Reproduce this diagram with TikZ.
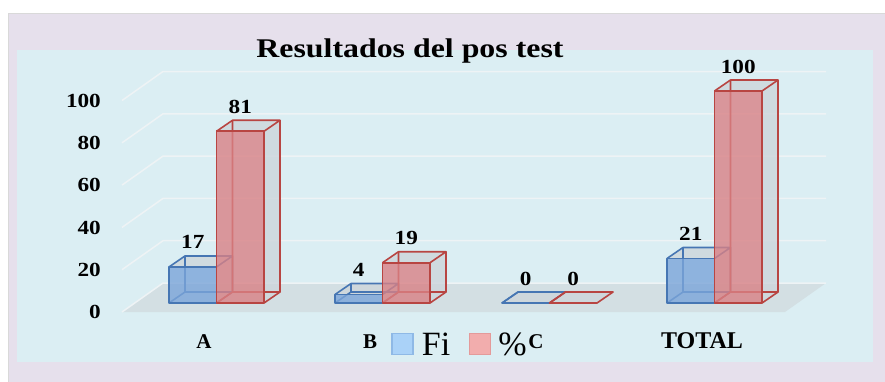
\documentclass[tikz,border=0pt]{standalone}
\usepackage{fontspec}
\setmainfont{Liberation Serif}
\newfontfamily\widefont{Liberation Serif}[FakeStretch=1.16]
\newfontfamily\titlefont{Liberation Serif}[FakeStretch=1.18]
\usetikzlibrary{positioning}

\definecolor{outerbg}{HTML}{E6E0EC}
\definecolor{panelbg}{HTML}{DBEEF3}
\definecolor{floorgray}{HTML}{D3DFE3}
\definecolor{gridwhite}{HTML}{EEF3F5}
\definecolor{fiblue}{HTML}{7BA5D9}
\definecolor{fiedge}{HTML}{4676B3}
\definecolor{pcred}{HTML}{D98185}
\definecolor{pcedge}{HTML}{B84542}
\definecolor{sidegray}{HTML}{CDD5DB}
\definecolor{legblue}{HTML}{AAD2F8}
\definecolor{legblueedge}{HTML}{8FB9E6}
\definecolor{legred}{HTML}{F2ADAD}
\definecolor{legrededge}{HTML}{E49A9A}

% one 3d bar: name, left x, value, fill, edge
\newcommand{\drawbar}[5]{%
  \pgfmathsetmacro{\bartop}{303-2.12*#3}
  \pgfmathsetmacro{\barback}{292-2.12*#3}
  \pgfmathsetmacro{\barright}{#2+47.5}
  \fill[sidegray, fill opacity=.8] (\barright,303) -- (\barright+16,292) -- (\barright+16,\barback) -- (\barright,\bartop) -- cycle;
  \fill[sidegray, fill opacity=.8] (#2,\bartop) -- (#2+16,\barback) -- (\barright+16,\barback) -- (\barright,\bartop) -- cycle;
  \draw[baredge=#5] (#2,303) -- (#2+16,292) -- (\barright+16,292) (#2+16,292) -- (#2+16,\barback);
  \fill[#4, fill opacity=.8] (#2,303) rectangle (\barright,\bartop);
  \draw[baredge=#5] (#2,303) rectangle (\barright,\bartop);
  \draw[baredge=#5] (#2,\bartop) -- (#2+16,\barback) -- (\barright+16,\barback) -- (\barright,\bartop)
    (\barright+16,\barback) -- (\barright+16,292) -- (\barright,303);
  \node[num] (#1) at ({#2+23.75},{\barback-7}) {#3};
}

\begin{document}
\begin{tikzpicture}[x=1pt, y=-1pt,
    baredge/.style={draw=#1, line width=1.6pt, line join=round},
    gridline/.style={draw=gridwhite, line width=1.5pt},
    num/.style={font=\widefont\bfseries\fontsize{20}{21}\selectfont, inner sep=0pt, anchor=base},
    axisnum/.style={num, anchor=base east},
    category/.style={font=\bfseries\fontsize{21}{22}\selectfont, inner sep=0pt, anchor=base},
    legkey/.style={minimum size=21pt, inner sep=0pt, line width=1.3pt},
    legtext/.style={font=\fontsize{34}{36}\selectfont, inner sep=0pt}]
  \useasboundingbox (0,0) rectangle (885,381);
  % Background
  \fill[white] (0,0) rectangle (885,381);
  \filldraw[fill=outerbg, draw=black!15] (8,13) rectangle (886,382);
  \fill[panelbg] (17,50) rectangle (873,362);
  % Floor and grid
  \fill[floorgray] (122,312) -- (785,312) -- (826,283) -- (163,283) -- cycle;
  \foreach \k in {0,...,5}
    \draw[gridline] (122,{312-42.3*\k}) -- (163,{283-42.3*\k}) -- (826,{283-42.3*\k});
  \foreach \k/\v in {0/0,1/20,2/40,3/60,4/80,5/100}
    \node[axisnum] (y\v) at (101,{318.5-42.2*\k}) {\v};
  % Title
  \node[font=\titlefont\bfseries\fontsize{27}{28}\selectfont, inner sep=0pt, anchor=base] (title) at (410,57) {Resultados del pos test};
  % Bars
  \drawbar{fi-a}{169}{17}{fiblue}{fiedge}
  \drawbar{pc-a}{216.5}{81}{pcred}{pcedge}
  \drawbar{fi-b}{335}{4}{fiblue}{fiedge}
  \drawbar{pc-b}{382.5}{19}{pcred}{pcedge}
  \drawbar{fi-c}{502}{0}{fiblue}{fiedge}
  \drawbar{pc-c}{549.5}{0}{pcred}{pcedge}
  \drawbar{fi-t}{667}{21}{fiblue}{fiedge}
  \drawbar{pc-t}{714.5}{100}{pcred}{pcedge}
  % Categories
  \node[category] (cat-a) at (204,348) {A};
  \node[category] (cat-b) at (370,348) {B};
  \node[category] (cat-c) at (536,348) {C};
  \node[category, font=\bfseries\fontsize{24}{25}\selectfont] (cat-t) at (702,348) {TOTAL};
  % Legend
  \node[legkey, fill=legblue, draw=legblueedge] (key-fi) at (402.5,344) {};
  \node[legtext, right=8pt of key-fi] (leg-fi) {Fi};
  \node[legkey, fill=legred, draw=legrededge] (key-pc) at (480,344) {};
  \node[legtext, right=7pt of key-pc] (leg-pc) {\%};
\end{tikzpicture}
\end{document}
